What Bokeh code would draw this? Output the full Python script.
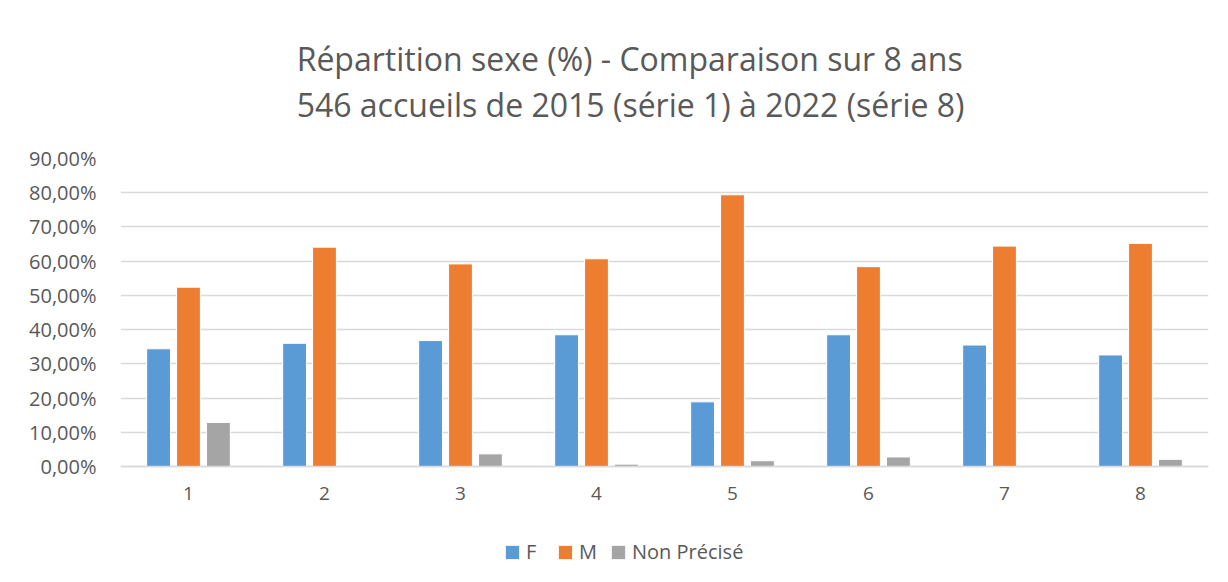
from bokeh.plotting import figure
from bokeh.models import (ColumnDataSource, FactorRange, Legend, LegendItem, Title,
                          CustomJSTickFormatter, FixedTicker, Range1d)
from bokeh.transform import dodge
from bokeh.embed import file_html
from bokeh.resources import INLINE

categories = ["1", "2", "3", "4", "5", "6", "7", "8"]
f_values = [34.4, 36.0, 36.8, 38.5, 18.9, 38.5, 35.5, 32.6]
m_values = [52.4, 64.1, 59.2, 60.7, 79.4, 58.4, 64.4, 65.2]
np_values = [12.9, 0.0, 3.7, 0.7, 1.7, 2.8, 0.0, 2.1]
y_ticks = [0, 10, 20, 30, 40, 50, 60, 70, 80, 90]
series_names = ["F", "M", "Non Précisé"]
title_line1 = "Répartition sexe (%) - Comparaison sur 8 ans"
title_line2 = "546 accueils de 2015 (série 1) à 2022 (série 8)"

FONT = "Open Sans"
TXT = "#595959"
colors = ["#5B9BD5", "#ED7D31", "#A5A5A5"]

src = ColumnDataSource(dict(cat=categories, f=f_values, m=m_values, n=np_values))

# frame extended below 0 so the legend can sit inside it; x axis pinned at 0
p = figure(frame_width=1088, frame_height=421,
           x_range=FactorRange(*categories, range_padding=0),
           y_range=Range1d(-33.0, 90), output_backend="svg", toolbar_location=None,
           min_border_left=120, min_border_right=12, min_border_top=158, min_border_bottom=0,
           title=None)
p.outline_line_color = None
p.background_fill_color = "white"
p.border_fill_color = "white"

title = Title(text=title_line1 + "\n" + title_line2, align="right", offset=244,
              text_font=FONT, text_font_size="32px", text_font_style="normal",
              text_color=TXT, text_line_height=1.07, standoff=64)
p.add_layout(title, "above")

r_f = p.vbar(x=dodge("cat", -0.22, range=p.x_range), top="f", width=0.175, source=src,
             fill_color=colors[0], line_color="white", line_width=1)
r_m = p.vbar(x=dodge("cat", 0.0, range=p.x_range), top="m", width=0.175, source=src,
             fill_color=colors[1], line_color="white", line_width=1)
r_n = p.vbar(x=dodge("cat", 0.22, range=p.x_range), top="n", width=0.175, source=src,
             fill_color=colors[2], line_color="white", line_width=1)

p.xgrid.grid_line_color = None
p.ygrid.grid_line_color = "#D9D9D9"
p.ygrid.grid_line_width = 1.5

p.yaxis.ticker = FixedTicker(ticks=y_ticks)
p.yaxis.formatter = CustomJSTickFormatter(code="return tick.toFixed(2).replace('.', ',') + '%';")
p.yaxis.axis_line_color = None
p.yaxis.major_tick_line_color = None
p.yaxis.minor_tick_line_color = None
p.yaxis.major_label_text_font = FONT
p.yaxis.major_label_text_font_size = "20px"
p.yaxis.major_label_text_color = TXT
p.yaxis.major_label_standoff = 18

p.xaxis.fixed_location = 0
p.xaxis.axis_line_color = "#D9D9D9"
p.xaxis.axis_line_width = 1.5
p.xaxis.major_tick_line_color = None
p.xaxis.minor_tick_line_color = None
p.xaxis.major_label_text_font = FONT
p.xaxis.major_label_text_font_size = "19px"
p.xaxis.major_label_text_color = TXT
p.xaxis.major_label_standoff = 14

legend = Legend(items=[LegendItem(label=series_names[0], renderers=[r_f]),
                       LegendItem(label=series_names[1], renderers=[r_m]),
                       LegendItem(label=series_names[2], renderers=[r_n])],
                orientation="horizontal", location=(383, 14), border_line_color=None,
                background_fill_alpha=0, label_text_font=FONT, label_text_font_size="20px",
                label_text_color=TXT, glyph_width=18, glyph_height=18, spacing=10,
                label_standoff=5, margin=0, padding=8)
p.add_layout(legend, "center")

open("out.html", "w").write(file_html(p, INLINE))
